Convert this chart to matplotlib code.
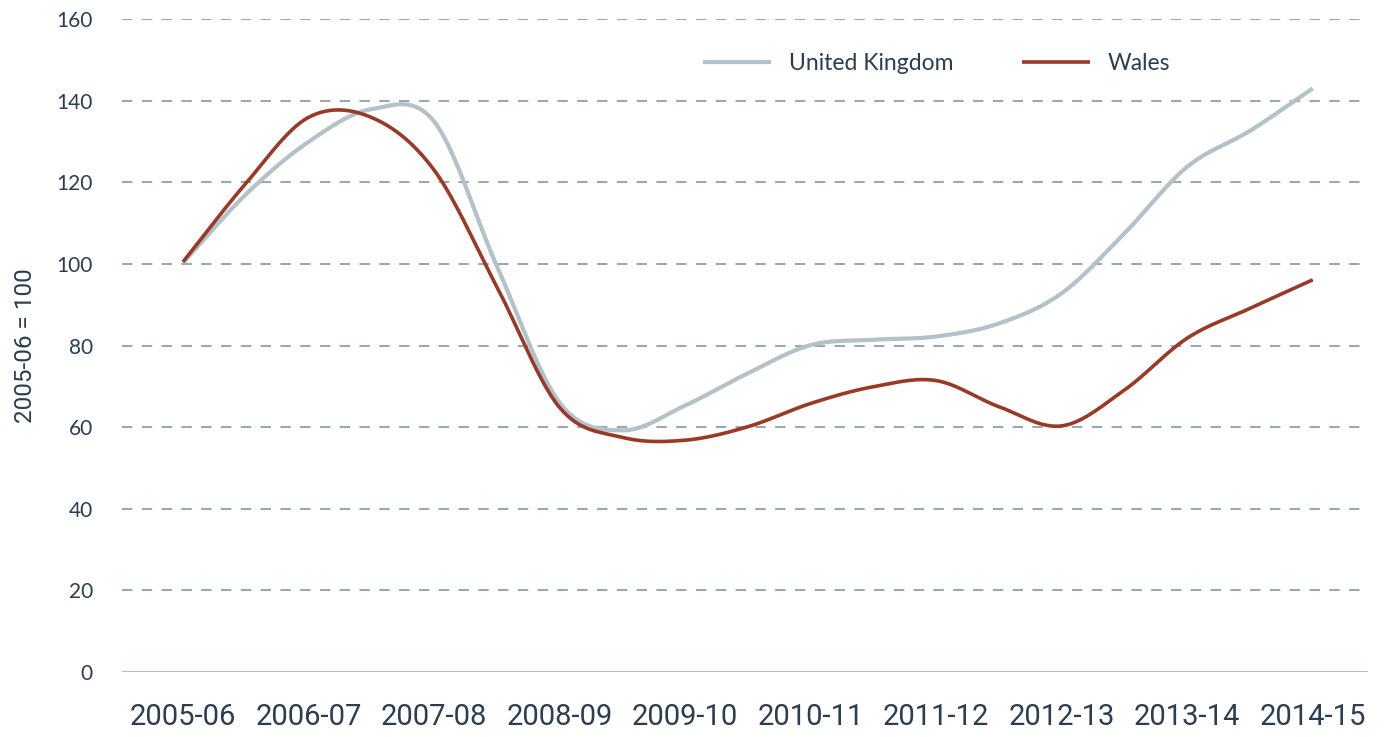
import numpy as np
import matplotlib
matplotlib.use("Agg")
import matplotlib.pyplot as plt

categories = ["2005-06", "2006-07", "2007-08", "2008-09", "2009-10",
              "2010-11", "2011-12", "2012-13", "2013-14", "2014-15"]
# values read at half-year steps (index 0, 0.5, 1, ... 9)
uk = [100.3, 117.0, 129.9, 137.9, 134.9, 99.5, 66.0, 59.2, 65.3, 73.2,
      80.1, 81.4, 82.2, 85.4, 92.8, 107.5, 123.8, 132.6, 143.0]
wales = [100.5, 119.7, 135.9, 135.9, 123.0, 94.4, 64.8, 57.5, 56.8, 60.1,
         65.8, 69.9, 71.4, 65.0, 60.3, 69.1, 81.8, 89.1, 96.1]
yticks = [0, 20, 40, 60, 80, 100, 120, 140, 160]

UK_COL = "#b3c1c8"
WA_COL = "#983a27"
TXT = "#2b3d4f"
GRID = "#9aa8b3"


def catmull_rom(x, y, n=30):
    x = np.asarray(x, float)
    y = np.asarray(y, float)
    xp = np.concatenate([[2 * x[0] - x[1]], x, [2 * x[-1] - x[-2]]])
    yp = np.concatenate([[2 * y[0] - y[1]], y, [2 * y[-1] - y[-2]]])
    xs, ys = [], []
    t = np.linspace(0, 1, n, endpoint=False)
    for i in range(1, len(xp) - 2):
        p0, p1, p2, p3 = yp[i - 1], yp[i], yp[i + 1], yp[i + 2]
        q0, q1, q2, q3 = xp[i - 1], xp[i], xp[i + 1], xp[i + 2]
        f = lambda a0, a1, a2, a3: 0.5 * ((2 * a1) + (-a0 + a2) * t +
                                          (2 * a0 - 5 * a1 + 4 * a2 - a3) * t ** 2 +
                                          (-a0 + 3 * a1 - 3 * a2 + a3) * t ** 3)
        xs.append(f(q0, q1, q2, q3))
        ys.append(f(p0, p1, p2, p3))
    xs.append([x[-1]])
    ys.append([y[-1]])
    return np.concatenate(xs), np.concatenate(ys)


fig = plt.figure(figsize=(13.87, 7.37), dpi=100)
ax = fig.add_axes([122 / 1387, 1 - 672 / 737, 1246 / 1387, 653 / 737])

xpos = np.arange(len(uk)) / 2.0
ux, uy = catmull_rom(xpos, uk)
wx, wy = catmull_rom(xpos, wales)

for v in yticks[1:]:
    ax.axhline(v, color=GRID, lw=1.5, ls=(0, (5, 4.5)), zorder=1)
ax.axhline(0, color=GRID, lw=1.8, zorder=1)

ax.plot(ux, uy, color=UK_COL, lw=3.0, label="United Kingdom", zorder=3,
        solid_capstyle="butt")
ax.plot(wx, wy, color=WA_COL, lw=2.6, label="Wales", zorder=4,
        solid_capstyle="butt")

ax.set_xlim(-0.486, 9.44)
ax.set_ylim(0, 160)
ax.set_yticks(yticks)
ax.set_yticklabels([str(v) for v in yticks], fontsize=15, color=TXT,
                   family="Lato")
ax.set_xticks(range(len(categories)))
ax.set_xticklabels(categories, fontsize=21, color=TXT, family="Roboto")
ax.tick_params(axis="y", length=0, pad=21)
ax.tick_params(axis="x", length=0, pad=22)
for s in ax.spines.values():
    s.set_visible(False)

ax.set_ylabel("2005-06 = 100", fontsize=17.5, color=TXT, family="Roboto",
              labelpad=14)

leg = ax.legend(loc="upper left", bbox_to_anchor=(581 / 1246, 1 - 34.5 / 653),
                ncol=2, frameon=False, handlelength=2.97, handletextpad=0.79,
                columnspacing=2.97, borderaxespad=0, borderpad=0,
                prop={"family": "Lato", "size": 16.5})
for t in leg.get_texts():
    t.set_color(TXT)

fig.savefig("out.png", dpi=100)
